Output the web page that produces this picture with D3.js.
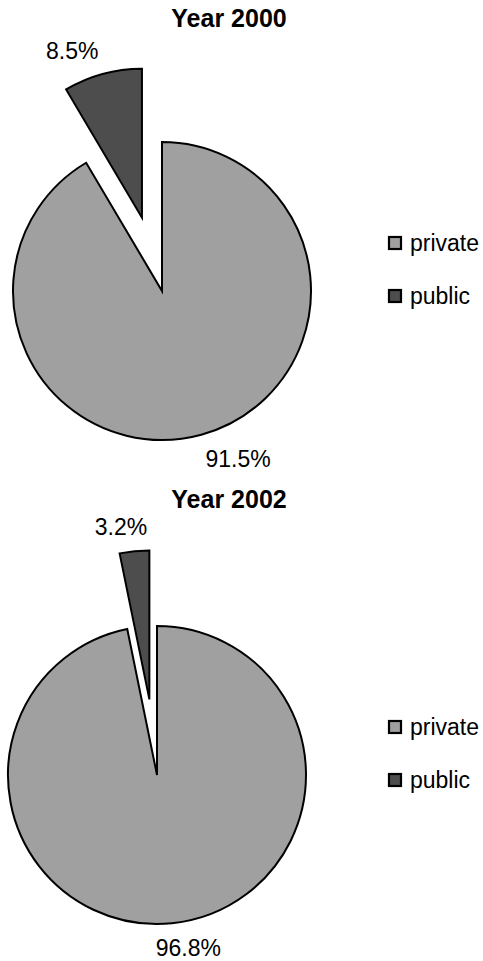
<!DOCTYPE html>
<html>
<head>
<meta charset="utf-8">
<script src="https://cdn.jsdelivr.net/npm/d3@7"></script>
<style>
  body { margin: 0; background: #fff; }
  svg { display: block; font-family: "Liberation Sans", Arial, sans-serif; }
</style>
</head>
<body>
<svg id="chart"></svg>
<script>
// Data
var years = ["Year 2000", "Year 2002"];
var categories = ["private", "public"];
var privateShare = [91.5, 96.8];
var publicShare = [8.5, 3.2];
var exploded = "public";

var colors = { "private": "#a0a0a0", "public": "#4d4d4d" };

var width = 483, height = 961;
var radius = 149;
var explodeDist = 76;
var labelGap = 16;

// where each pie sits in the page
var panels = [
    { cx: 162, cy: 291, titleX: 229, titleY: 27 },
    { cx: 157, cy: 775, titleX: 229, titleY: 508 }
];

var svg = d3.select("#chart")
    .attr("width", width)
    .attr("height", height);

var pie = d3.pie()
    .sort(null)
    .value(function(d) { return d.value; });

var arc = d3.arc()
    .innerRadius(0)
    .outerRadius(radius);

years.forEach(function(year, i) {
    var p = panels[i];
    var data = [
        { cat: categories[0], value: privateShare[i] },
        { cat: categories[1], value: publicShare[i] }
    ];

    var g = svg.append("g")
        .attr("transform", "translate(" + p.cx + "," + p.cy + ")");

    // Title
    svg.append("text")
        .attr("x", p.titleX)
        .attr("y", p.titleY)
        .attr("text-anchor", "middle")
        .style("font-size", "25px")
        .style("font-weight", "bold")
        .text(year);

    var slices = pie(data);

    // offset for the exploded slice
    function shift(d) {
        var a = (d.startAngle + d.endAngle) / 2;
        var k = d.data.cat === exploded ? explodeDist : 0;
        return [Math.sin(a) * k, -Math.cos(a) * k];
    }

    g.selectAll(".slice")
        .data(slices)
        .enter().append("path")
        .attr("class", "slice")
        .attr("transform", function(d) { var s = shift(d); return "translate(" + s[0] + "," + s[1] + ")"; })
        .attr("d", arc)
        .style("fill", function(d) { return colors[d.data.cat]; })
        .style("stroke", "#000")
        .style("stroke-width", 2)
        .style("stroke-linejoin", "miter");

    // Percentage labels, placed just outside each slice like Excel does
    var fs = 23, capH = fs * 0.716;
    g.selectAll(".label")
        .data(slices)
        .enter().append("text")
        .attr("class", "label")
        .style("font-size", fs + "px")
        .text(function(d) { return d3.format(".1f")(d.data.value) + "%"; })
        .each(function(d) {
            var a = (d.startAngle + d.endAngle) / 2;
            var s = shift(d);
            var r = radius + labelGap;
            var px = s[0] + Math.sin(a) * r;
            var py = s[1] - Math.cos(a) * r;
            var w = this.getComputedTextLength();
            var fx = Math.max(-1, Math.min(1, 4.5 * Math.sin(a)));
            var below = Math.cos(a) < 0;
            d3.select(this)
                .attr("text-anchor", "middle")
                .attr("x", px + fx * w / 2)
                .attr("y", below ? py + capH : py);
        });

    // Legend
    var legend = g.selectAll(".legend")
        .data(categories)
        .enter().append("g")
        .attr("class", "legend")
        .attr("transform", function(d, j) { return "translate(" + (227 - (p.cx - 162)) + "," + (-54 + j * 53) + ")"; });

    legend.append("rect")
        .attr("width", 12)
        .attr("height", 12)
        .style("fill", function(d) { return colors[d]; })
        .style("stroke", "#000")
        .style("stroke-width", 2.2);

    legend.append("text")
        .attr("x", 21)
        .attr("y", 14)
        .style("font-size", "23px")
        .text(function(d) { return d; });
});
</script>
</body>
</html>
